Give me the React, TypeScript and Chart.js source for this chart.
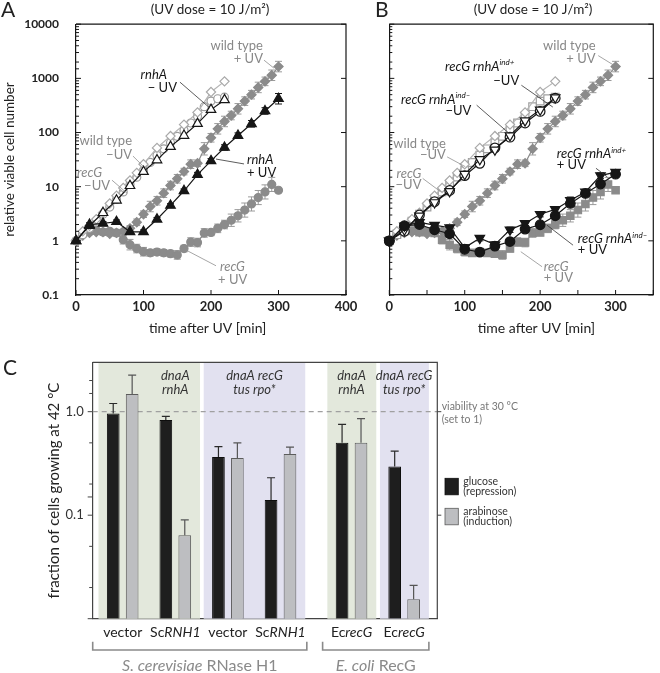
import React, { useEffect, useRef } from 'react';
import { Chart, registerables } from 'chart.js';

Chart.register(...registerables);

const FONT = 'Lato, "Open Sans", "DejaVu Sans", sans-serif';
const INK = '#161616';
const GRAY = '#8b8b8b';
const LIGHT = '#a9a9a9';

// ---------------- Panels A & B : time after UV (min) ----------------
const t10 = [0, 10, 20, 30, 40, 50, 60, 70, 80, 90, 100, 110, 120, 130, 140, 150, 160, 170, 180, 190, 200, 210, 220, 230, 240, 250, 260, 270, 280, 290, 300];
const tWtMinusUV = [0, 10, 20, 30, 40, 50, 60, 70, 80, 90, 100, 120, 140, 160, 180, 200, 220];
const tRecGMinusUV = [0, 10, 20, 30, 40, 50, 60, 70, 80, 90, 100, 110, 120, 130, 140, 150, 160, 170, 180, 190, 200, 210, 220];
const t20to220 = [0, 20, 40, 60, 80, 100, 120, 140, 160, 180, 200, 220];
const t20to300 = [0, 20, 40, 60, 80, 100, 120, 140, 160, 180, 200, 220, 240, 260, 280, 300];

// relative viable cell number
const wtMinusUV = [1, 1.5, 1.9, 2.5, 3.3, 4.9, 6.8, 9.5, 13, 18, 26, 52, 86, 140, 235, 560, 880];
const recGMinusUV = [1, 1.3, 1.7, 2.3, 3.1, 4.2, 5.8, 8, 11, 15, 20, 28, 38, 50, 65, 85, 110, 150, 200, 300, 380, 420, 450];
const rnhAMinusUV = [1, 1.9, 3.3, 5.6, 10.4, 19, 31, 55, 88, 146, 265, 400];
const rnhAPlusUV = [1, 2.0, 2.1, 2.25, 1.47, 1.47, 2.5, 4.5, 8.4, 16.7, 30, 53, 88, 145, 250, 420];
const wtPlusUV = [1, 1.25, 1.4, 1.45, 1.45, 1.35, 1.4, 1.5, 1.7, 2.2, 3.1, 4.3, 5.5, 7.6, 10.5, 14, 19, 26, 27, 50, 80, 117, 160, 206, 274, 380, 500, 680, 880, 1140, 1650];
const recGPlusUV = [1, 1.35, 1.5, 1.55, 1.45, 1.5, 1.4, 1.05, 0.85, 0.72, 0.63, 0.6, 0.62, 0.6, 0.58, 0.55, 0.72, 0.95, 0.93, 1.4, 1.43, 1.7, 2.0, 2.4, 2.9, 3.7, 4.8, 6.3, 8, 11, 8.6];
const indPlusMinusUV = [1, 1.6, 2.9, 5.1, 8.2, 17, 32, 48, 88, 166, 263, 440];
const indMinusMinusUV = [1, 1.5, 3.0, 5.3, 8.5, 16, 27, 52, 82, 150, 245, 430];
const indPlusPlusUV = [1, 1.9, 2.2, 1.95, 1.75, 0.75, 1.12, 0.85, 1.6, 2.1, 3.1, 3.8, 5.6, 8.0, 16, 18.5];
const indMinusPlusUV = [1, 1.9, 2.0, 1.6, 1.35, 0.7, 0.62, 0.8, 0.97, 1.65, 1.98, 2.9, 4.9, 7.5, 11.2, 17];

// error bars (% of value)
const wtPlusUVErr = [0, 8, 8, 10, 10, 10, 10, 10, 12, 15, 15, 25, 20, 20, 20, 20, 15, 20, 15, 30, 20, 25, 25, 20, 25, 20, 20, 25, 20, 25, 25];
const recGPlusUVErr = [0, 10, 12, 12, 15, 12, 15, 20, 25, 20, 20, 15, 15, 15, 15, 20, 15, 20, 20, 20, 15, 20, 20, 30, 30, 35, 35, 35, 35, 35, 10];
const rnhAPlusUVErr = [0, 8, 8, 8, 8, 8, 8, 8, 8, 10, 10, 12, 12, 15, 15, 25];
const indPlusPlusUVErr = [0, 10, 10, 10, 12, 12, 12, 12, 12, 10, 12, 12, 15, 12, 12, 12];
const indMinusPlusUVErr = [0, 8, 8, 10, 10, 10, 10, 10, 10, 10, 10, 10, 12, 12, 12, 12];

const yTickLabelsAB = ['0.1', '1', '10', '100', '1000', '10000'];

// ---------------- Panel C : fraction of cells growing at 42 °C ----------------
const cGroups = ['vector', 'ScRNH1', 'vector', 'ScRNH1', 'EcrecG', 'EcrecG'];
const glucose = [0.96, 0.83, 0.365, 0.14, 0.5, 0.295];
const glucoseSD = [0.24, 0.07, 0.095, 0.09, 0.255, 0.12];
const arabinose = [1.48, 0.064, 0.357, 0.39, 0.5, 0.0154];
const arabinoseSD = [0.78, 0.026, 0.143, 0.065, 0.357, 0.0056];
const cYTickValues = [0.1, 1];
const cYTickLabels = ['0.1', '1.0'];

// ---------------- helpers ----------------
type Seg = { t: string; i?: boolean; sup?: boolean };

function fontStr(size: number, italic = false, weight = 'normal') {
  return `${italic ? 'italic ' : ''}${weight} ${size}px ${FONT}`;
}

function drawSegs(ctx: CanvasRenderingContext2D, segs: Seg[], x: number, y: number, align: string, size: number, color: string, weight = 'normal') {
  ctx.save();
  ctx.fillStyle = color;
  ctx.textBaseline = 'middle';
  ctx.textAlign = 'left';
  const parts = segs.map((s) => {
    const f = fontStr(s.sup ? size * 0.62 : size, !!s.i, weight);
    ctx.font = f;
    return { s, f, w: ctx.measureText(s.t).width };
  });
  const total = parts.reduce((a, p) => a + p.w, 0);
  let cx = align === 'left' ? x : align === 'right' ? x - total : x - total / 2;
  for (const p of parts) {
    ctx.font = p.f;
    ctx.fillText(p.s.t, cx, p.s.sup ? y - size * 0.32 : y);
    cx += p.w;
  }
  ctx.restore();
}

function isDecade(v: number) {
  const l = Math.log10(v);
  return Math.abs(l - Math.round(l)) < 1e-6;
}

type Series = {
  label: string; t: number[]; v: number[];
  marker: string; rot?: number; r: number; stroke: string; fill: string; line: string;
  err?: number[]; errColor?: string;
};

type Note = { segs: Seg[]; t: number; lv: number; align: string; tone: 'ink' | 'gray' };
type Leader = { from: [number, number]; to: [number, number]; tone: 'ink' | 'gray' };

type Panel = {
  letter: string; letterX: number; titleX: number; xMax: number; xStep: number;
  yAxisWidth: number; padRight: number; showYLabels: boolean;
  series: Series[]; notes: Note[]; leaders: Leader[];
};

const sup = (s: string): Seg => ({ t: s, i: true, sup: true });

const panelA: Panel = {
  letter: 'A', letterX: 1, titleX: 210, xMax: 400, xStep: 100, yAxisWidth: 76, padRight: 19, showYLabels: true,
  series: [
    { label: 'rnhA + UV', t: t20to300, v: rnhAPlusUV, marker: 'triangle', r: 5.5, stroke: INK, fill: INK, line: INK, err: rnhAPlusUVErr, errColor: INK },
    { label: 'rnhA − UV', t: t20to220, v: rnhAMinusUV, marker: 'triangle', r: 5.5, stroke: INK, fill: '#fff', line: INK },
    { label: 'wild type − UV', t: tWtMinusUV, v: wtMinusUV, marker: 'rectRot', r: 4.6, stroke: LIGHT, fill: '#fff', line: '#b4b4b4' },
    { label: 'recG − UV', t: tRecGMinusUV, v: recGMinusUV, marker: 'circle', r: 4, stroke: '#9c9c9c', fill: '#fff', line: '#a2a2a2' },
    { label: 'wild type + UV', t: t10, v: wtPlusUV, marker: 'rectRot', r: 4.6, stroke: GRAY, fill: GRAY, line: GRAY, err: wtPlusUVErr, errColor: '#9a9a9a' },
    { label: 'recG + UV', t: t10, v: recGPlusUV, marker: 'circle', r: 4, stroke: GRAY, fill: GRAY, line: GRAY, err: recGPlusUVErr, errColor: '#9a9a9a' },
  ],
  notes: [
    { segs: [{ t: 'wild type' }], t: 277, lv: 3.61, align: 'right', tone: 'gray' },
    { segs: [{ t: '+ UV' }], t: 277, lv: 3.37, align: 'right', tone: 'gray' },
    { segs: [{ t: 'rnhA', i: true }], t: 134.8, lv: 3.06, align: 'right', tone: 'ink' },
    { segs: [{ t: '− UV' }], t: 149.6, lv: 2.82, align: 'right', tone: 'ink' },
    { segs: [{ t: 'wild type' }], t: 83, lv: 1.84, align: 'right', tone: 'gray' },
    { segs: [{ t: '−UV' }], t: 83, lv: 1.58, align: 'right', tone: 'gray' },
    { segs: [{ t: 'recG', i: true }], t: 38.5, lv: 1.25, align: 'right', tone: 'gray' },
    { segs: [{ t: '−UV' }], t: 50.4, lv: 1.01, align: 'right', tone: 'gray' },
    { segs: [{ t: 'rnhA', i: true }], t: 253.3, lv: 1.49, align: 'left', tone: 'ink' },
    { segs: [{ t: '+ UV' }], t: 253.3, lv: 1.25, align: 'left', tone: 'ink' },
    { segs: [{ t: 'recG', i: true }], t: 213.3, lv: -0.48, align: 'left', tone: 'gray' },
    { segs: [{ t: '+ UV' }], t: 210.4, lv: -0.72, align: 'left', tone: 'gray' },
  ],
  leaders: [
    { from: [278.5, 3.336], to: [293.3, 3.188], tone: 'gray' },
    { from: [154, 2.93], to: [198.5, 2.45], tone: 'ink' },
    { from: [84.4, 1.565], to: [99.3, 1.38], tone: 'gray' },
    { from: [53.3, 1.12], to: [75.6, 0.88], tone: 'gray' },
    { from: [248.9, 1.42], to: [207.4, 1.51], tone: 'ink' },
    { from: [207.4, -0.46], to: [163, -0.17], tone: 'gray' },
  ],
};

const panelB: Panel = {
  letter: 'B', letterX: 45, titleX: 203, xMax: 350, xStep: 50, yAxisWidth: 59.3, padRight: 1.5, showYLabels: false,
  series: [
    { label: 'recG rnhA ind+ + UV', t: t20to300, v: indPlusPlusUV, marker: 'triangle', rot: 180, r: 5.5, stroke: INK, fill: INK, line: INK, err: indPlusPlusUVErr, errColor: INK },
    { label: 'recG rnhA ind− + UV', t: t20to300, v: indMinusPlusUV, marker: 'circle', r: 4.8, stroke: INK, fill: INK, line: INK, err: indMinusPlusUVErr, errColor: INK },
    { label: 'recG rnhA ind+ − UV', t: t20to220, v: indPlusMinusUV, marker: 'triangle', rot: 180, r: 5.5, stroke: INK, fill: '#fff', line: INK },
    { label: 'recG rnhA ind− − UV', t: t20to220, v: indMinusMinusUV, marker: 'circle', r: 4.8, stroke: INK, fill: '#fff', line: INK },
    { label: 'wild type − UV', t: tWtMinusUV, v: wtMinusUV, marker: 'rectRot', r: 4.6, stroke: LIGHT, fill: '#fff', line: '#b4b4b4' },
    { label: 'recG − UV', t: tRecGMinusUV, v: recGMinusUV, marker: 'rect', r: 5.4, stroke: '#a0a0a0', fill: '#fff', line: '#a8a8a8' },
    { label: 'wild type + UV', t: t10, v: wtPlusUV, marker: 'rectRot', r: 4.6, stroke: GRAY, fill: GRAY, line: GRAY, err: wtPlusUVErr, errColor: '#9a9a9a' },
    { label: 'recG + UV', t: t10, v: recGPlusUV, marker: 'rect', r: 5.2, stroke: GRAY, fill: GRAY, line: GRAY, err: recGPlusUVErr, errColor: '#9a9a9a' },
  ],
  notes: [
    { segs: [{ t: 'wild type' }], t: 273.5, lv: 3.61, align: 'right', tone: 'gray' },
    { segs: [{ t: '+ UV' }], t: 273.5, lv: 3.37, align: 'right', tone: 'gray' },
    { segs: [{ t: 'recG rnhA', i: true }, sup('ind+')], t: 166, lv: 3.21, align: 'right', tone: 'ink' },
    { segs: [{ t: '−UV' }], t: 172.2, lv: 2.96, align: 'right', tone: 'ink' },
    { segs: [{ t: 'recG rnhA', i: true }, sup('ind–')], t: 107.6, lv: 2.6, align: 'right', tone: 'ink' },
    { segs: [{ t: '−UV' }], t: 108.8, lv: 2.41, align: 'right', tone: 'ink' },
    { segs: [{ t: 'wild type' }], t: 75, lv: 1.8, align: 'right', tone: 'gray' },
    { segs: [{ t: '−UV' }], t: 75, lv: 1.58, align: 'right', tone: 'gray' },
    { segs: [{ t: 'recG', i: true }], t: 42.6, lv: 1.245, align: 'right', tone: 'gray' },
    { segs: [{ t: '−UV' }], t: 42.6, lv: 1.03, align: 'right', tone: 'gray' },
    { segs: [{ t: 'recG rnhA', i: true }, sup('ind+')], t: 222, lv: 1.6, align: 'left', tone: 'ink' },
    { segs: [{ t: '+ UV' }], t: 222, lv: 1.4, align: 'left', tone: 'ink' },
    { segs: [{ t: 'recG rnhA', i: true }, sup('ind–')], t: 250, lv: 0.03, align: 'left', tone: 'ink' },
    { segs: [{ t: '+ UV' }], t: 250, lv: -0.17, align: 'left', tone: 'ink' },
    { segs: [{ t: 'recG', i: true }], t: 204.7, lv: -0.48, align: 'left', tone: 'gray' },
    { segs: [{ t: '+ UV' }], t: 204.7, lv: -0.69, align: 'left', tone: 'gray' },
  ],
  leaders: [
    { from: [277, 3.42], to: [298, 3.24], tone: 'gray' },
    { from: [175.1, 2.873], to: [216.8, 2.47], tone: 'ink' },
    { from: [115.8, 2.505], to: [159.2, 1.98], tone: 'ink' },
    { from: [76.7, 1.55], to: [100.7, 1.37], tone: 'gray' },
    { from: [44.3, 1.153], to: [68.1, 0.906], tone: 'gray' },
    { from: [274, 1.34], to: [289, 1.18], tone: 'ink' },
    { from: [243.6, -0.08], to: [209, 0.29], tone: 'ink' },
    { from: [202.5, -0.478], to: [174.3, -0.2], tone: 'gray' },
  ],
};

function makeTimeCoursePlugin(p: Panel) {
  return {
    id: 'timeCourse' + p.letter,
    beforeDatasetsDraw(chart: any) {
      const { ctx, scales: { x, y } } = chart;
      ctx.save();
      chart.data.datasets.forEach((ds: any) => {
        if (!ds.errPct) return;
        ctx.strokeStyle = ds.errColor;
        ctx.lineWidth = 1;
        ds.data.forEach((pt: any, j: number) => {
          const e = ds.errPct[j];
          if (!e) return;
          const px = x.getPixelForValue(pt.x);
          const yt = y.getPixelForValue(pt.y * (1 + e / 100));
          const yb = y.getPixelForValue(pt.y / (1 + e / 100));
          ctx.beginPath();
          ctx.moveTo(px, yt); ctx.lineTo(px, yb);
          ctx.moveTo(px - 3.5, yt); ctx.lineTo(px + 3.5, yt);
          ctx.moveTo(px - 3.5, yb); ctx.lineTo(px + 3.5, yb);
          ctx.stroke();
        });
      });
      ctx.restore();
    },
    afterDraw(chart: any) {
      const { ctx, chartArea: ca, scales: { x, y } } = chart;
      ctx.save();
      ctx.strokeStyle = INK;
      ctx.lineWidth = 1.2;
      ctx.beginPath();
      ctx.moveTo(ca.left, ca.top); ctx.lineTo(ca.right, ca.top); ctx.lineTo(ca.right, ca.bottom);
      ctx.stroke();
      ctx.lineWidth = 1;
      y.ticks.forEach((tk: any) => {
        const py = y.getPixelForValue(tk.value);
        const major = isDecade(tk.value);
        const len = major ? 5 : 3;
        ctx.beginPath();
        ctx.moveTo(ca.left, py); ctx.lineTo(ca.left + len, py);
        if (major) { ctx.moveTo(ca.right, py); ctx.lineTo(ca.right - len, py); }
        ctx.stroke();
      });
      x.ticks.forEach((tk: any) => {
        const px = x.getPixelForValue(tk.value);
        ctx.beginPath();
        ctx.moveTo(px, ca.bottom); ctx.lineTo(px, ca.bottom - 5);
        ctx.stroke();
      });
      // leaders
      p.leaders.forEach((l) => {
        ctx.strokeStyle = l.tone === 'ink' ? '#333' : '#8f8f8f';
        ctx.lineWidth = 0.8;
        ctx.beginPath();
        ctx.moveTo(x.getPixelForValue(l.from[0]), y.getPixelForValue(10 ** l.from[1]));
        ctx.lineTo(x.getPixelForValue(l.to[0]), y.getPixelForValue(10 ** l.to[1]));
        ctx.stroke();
      });
      ctx.restore();
      // notes
      p.notes.forEach((n) => {
        drawSegs(ctx, n.segs, x.getPixelForValue(n.t), y.getPixelForValue(10 ** n.lv), n.align, 13, n.tone === 'ink' ? INK : '#888');
      });
      // panel letter, title, x title
      ctx.save();
      ctx.fillStyle = '#222';
      ctx.font = fontStr(21);
      ctx.textBaseline = 'alphabetic';
      ctx.textAlign = 'left';
      ctx.fillText(p.letter, p.letterX, 17);
      ctx.restore();
      drawSegs(ctx, [{ t: '(UV dose = 10 J/m²)' }], p.titleX, 10, 'center', 13.5, '#222');
      drawSegs(ctx, [{ t: 'time after UV [min]' }], x.getPixelForValue(195), 328, 'center', 14, '#222');
    },
  };
}

function timeCourseConfig(p: Panel): any {
  return {
    type: 'line',
    data: {
      datasets: p.series.map((s) => ({
        label: s.label,
        data: s.t.map((t, i) => ({ x: t, y: s.v[i] })),
        borderColor: s.line,
        borderWidth: 1.2,
        backgroundColor: s.fill,
        pointStyle: s.marker,
        pointRotation: s.rot ?? 0,
        pointRadius: s.r,
        pointHoverRadius: s.r,
        pointBorderColor: s.stroke,
        pointBackgroundColor: s.fill,
        pointBorderWidth: 1.2,
        fill: false,
        tension: 0,
        clip: false,
        errPct: s.err,
        errColor: s.errColor,
      })),
    },
    options: {
      responsive: false,
      animation: false,
      devicePixelRatio: 1,
      events: [],
      layout: { padding: { left: 0, right: p.padRight, top: 24, bottom: 0 } },
      plugins: { legend: { display: false }, tooltip: { enabled: false } },
      scales: {
        x: {
          type: 'linear', min: 0, max: p.xMax,
          afterFit: (s: any) => { s.height = 45; },
          ticks: {
            stepSize: p.xStep, autoSkip: false, maxRotation: 0, padding: 4, color: '#222',
            font: { family: FONT, size: 13, weight: 'bold' },
            callback: (v: any) => (Number(v) % 100 === 0 ? String(v) : ''),
          },
          grid: { display: false, drawTicks: false },
          border: { display: true, color: INK, width: 1.2 },
        },
        y: {
          type: 'logarithmic', min: 0.1, max: 10000,
          afterFit: (s: any) => { s.width = p.yAxisWidth; },
          ticks: {
            autoSkip: false, padding: 17, color: '#222',
            font: { family: FONT, size: 12, weight: 'bold' },
            callback: (v: any) => {
              if (!p.showYLabels || !isDecade(Number(v))) return '';
              return yTickLabelsAB[Math.round(Math.log10(Number(v))) + 1] ?? '';
            },
          },
          grid: { display: false, drawTicks: false },
          border: { display: true, color: INK, width: 1.2 },
          title: {
            display: p.showYLabels, text: 'relative viable cell number', color: '#222',
            font: { family: FONT, size: 13.5 }, padding: { top: 2, bottom: 0 },
          },
        },
      },
    },
    plugins: [makeTimeCoursePlugin(p)],
  };
}

// ---------------- Panel C layout helpers ----------------
const E_COLI_GAP = 0.35;
const groupPos = (i: number) => i + 1 + (i >= 4 ? E_COLI_GAP : 0);
const GREEN = '#e3e8dc';
const LAVENDER = '#e2e1f0';
const strainBands = [
  { from: 0, to: 1, color: GREEN, lines: ['dnaA', 'rnhA'], labelOn: 1 },
  { from: 2, to: 3, color: LAVENDER, lines: ['dnaA recG', 'tus rpo*'], labelOn: -1 },
  { from: 4, to: 4, color: GREEN, lines: ['dnaA', 'rnhA'], labelOn: 4 },
  { from: 5, to: 5, color: LAVENDER, lines: ['dnaA recG', 'tus rpo*'], labelOn: 5 },
];
const species = [
  { segs: [{ t: 'S. cerevisiae', i: true }, { t: ' RNase H1' }], from: 0, to: 3, padL: 0.57, padR: 0.5 },
  { segs: [{ t: 'E. coli', i: true }, { t: ' RecG' }], from: 4, to: 5, padL: 0.55, padR: 0.47 },
];
const legendItems = [
  { lines: ['glucose', '(repression)'] },
  { lines: ['arabinose', '(induction)'] },
];

function catSegs(name: string): Seg[] {
  if (name.startsWith('Sc') || name.startsWith('Ec')) return [{ t: name.slice(0, 2) }, { t: name.slice(2), i: true }];
  return [{ t: name }];
}

const fracPlugin = {
  id: 'fraction',
  beforeDatasetsDraw(chart: any) {
    const { ctx, chartArea: ca, scales: { x, y } } = chart;
    ctx.save();
    strainBands.forEach((b) => {
      const l = x.getPixelForValue(groupPos(b.from) - 0.46);
      const r = x.getPixelForValue(groupPos(b.to) + 0.47);
      ctx.fillStyle = b.color;
      ctx.fillRect(l, ca.top, r - l, ca.bottom - ca.top);
      const cx = b.labelOn >= 0 ? x.getPixelForValue(groupPos(b.labelOn)) : (l + r) / 2;
      b.lines.forEach((ln, k) => drawSegs(ctx, [{ t: ln, i: true }], cx, ca.top + 13.4 + k * 14.3, 'center', 13, '#333'));
    });
    const p1 = y.getPixelForValue(1);
    ctx.setLineDash([5, 4]);
    ctx.strokeStyle = '#a0a0a0';
    ctx.lineWidth = 1.2;
    ctx.beginPath();
    ctx.moveTo(ca.left, p1); ctx.lineTo(ca.right, p1);
    ctx.stroke();
    ctx.setLineDash([]);
    ctx.restore();
  },
  afterDatasetsDraw(chart: any) {
    const { ctx, scales: { y } } = chart;
    ctx.save();
    chart.data.datasets.forEach((ds: any, di: number) => {
      const meta = chart.getDatasetMeta(di);
      ctx.strokeStyle = ds.errColor;
      ctx.lineWidth = 1.2;
      meta.data.forEach((bar: any, j: number) => {
        const top = y.getPixelForValue(ds.data[j].y + ds.sd[j]);
        ctx.beginPath();
        ctx.moveTo(bar.x, bar.y); ctx.lineTo(bar.x, top);
        ctx.moveTo(bar.x - 4, top); ctx.lineTo(bar.x + 4, top);
        ctx.stroke();
      });
    });
    ctx.restore();
  },
  afterDraw(chart: any) {
    const { ctx, chartArea: ca, scales: { x, y } } = chart;
    ctx.save();
    // frame
    ctx.strokeStyle = '#444';
    ctx.lineWidth = 1.2;
    ctx.beginPath();
    ctx.moveTo(ca.left, ca.top); ctx.lineTo(ca.right, ca.top); ctx.lineTo(ca.right, ca.bottom);
    ctx.stroke();
    // ticks
    ctx.lineWidth = 1;
    y.ticks.forEach((tk: any) => {
      const v = tk.value;
      const m = Math.round(v / 10 ** Math.floor(Math.log10(v) + 1e-9));
      if (m !== 1 && m !== 2 && m !== 5) return;
      const py = y.getPixelForValue(v);
      ctx.beginPath();
      ctx.moveTo(ca.left, py); ctx.lineTo(ca.left - (m === 1 ? 5 : 3.5), py);
      ctx.stroke();
    });
    cYTickValues.forEach((v) => {
      const py = y.getPixelForValue(v);
      ctx.beginPath();
      ctx.moveTo(ca.right, py); ctx.lineTo(ca.right + 4, py);
      ctx.stroke();
    });
    // category labels
    cGroups.forEach((g, i) => drawSegs(ctx, catSegs(g), x.getPixelForValue(groupPos(i)), ca.bottom + 14, 'center', 14, '#222'));
    // brackets + species
    species.forEach((s) => {
      const l = x.getPixelForValue(groupPos(s.from) - s.padL);
      const r = x.getPixelForValue(groupPos(s.to) + s.padR);
      const y1 = ca.bottom + 23, y2 = ca.bottom + 31.3;
      ctx.strokeStyle = '#8a8a8a';
      ctx.lineWidth = 1.6;
      ctx.beginPath();
      ctx.moveTo(l, y1); ctx.lineTo(l, y2); ctx.lineTo(r, y2); ctx.lineTo(r, y1);
      ctx.stroke();
      drawSegs(ctx, s.segs, (l + r) / 2, ca.bottom + 47, 'center', 16, '#8a8a8a');
    });
    // viability note
    const p1 = y.getPixelForValue(1);
    drawSegs(ctx, [{ t: 'viability at 30 °C' }], ca.right + 4.4, p1 - 5, 'left', 10.5, '#777');
    drawSegs(ctx, [{ t: '(set to 1)' }], ca.right + 4.4, p1 + 7.6, 'left', 10.5, '#777');
    // legend
    const fills = chart.data.datasets.map((d: any) => d.backgroundColor);
    const strokes = chart.data.datasets.map((d: any) => d.borderColor);
    legendItems.forEach((it, k) => {
      const top = ca.top + 116 + k * 30;
      ctx.fillStyle = fills[k];
      ctx.fillRect(ca.right + 7.7, top, 13.3, 16.5);
      ctx.strokeStyle = strokes[k];
      ctx.lineWidth = 0.8;
      ctx.strokeRect(ca.right + 7.7, top, 13.3, 16.5);
      it.lines.forEach((ln, j) => drawSegs(ctx, [{ t: ln }], ca.right + 26, top + 3 + j * 10.5, 'left', 10.5, '#333'));
    });
    // panel letter
    ctx.fillStyle = '#222';
    ctx.font = fontStr(21);
    ctx.textBaseline = 'alphabetic';
    ctx.textAlign = 'left';
    ctx.fillText('C', 3, 45);
    ctx.restore();
  },
};

function fractionConfig(): any {
  return {
    type: 'bar',
    data: {
      datasets: [
        {
          label: 'glucose (repression)',
          data: cGroups.map((_, i) => ({ x: groupPos(i), y: glucose[i] })),
          backgroundColor: '#1e1e1e', borderColor: '#0e0e0e', borderWidth: 1,
          categoryPercentage: 0.72, barPercentage: 0.67,
          sd: glucoseSD, errColor: '#2a2a2a',
        },
        {
          label: 'arabinose (induction)',
          data: cGroups.map((_, i) => ({ x: groupPos(i), y: arabinose[i] })),
          backgroundColor: '#bdbec1', borderColor: '#5c5c5c', borderWidth: 1,
          categoryPercentage: 0.72, barPercentage: 0.67,
          sd: arabinoseSD, errColor: '#555',
        },
      ],
    },
    options: {
      responsive: false,
      animation: false,
      devicePixelRatio: 1,
      events: [],
      layout: { padding: { left: 0, right: 222.7, top: 32.3, bottom: 0 } },
      plugins: { legend: { display: false }, tooltip: { enabled: false } },
      scales: {
        x: {
          type: 'linear', offset: false, min: 0.43, max: 6.98,
          afterFit: (s: any) => { s.height = 54.3; },
          ticks: { display: false, stepSize: 1, includeBounds: false },
          grid: { display: false, drawTicks: false },
          border: { display: true, color: '#444', width: 1.2 },
        },
        y: {
          type: 'logarithmic', min: 0.01, max: 3,
          afterFit: (s: any) => { s.width = 92.7; },
          ticks: {
            autoSkip: false, padding: 9, color: '#333',
            font: { family: FONT, size: 13 },
            callback: (v: any) => {
              const k = cYTickValues.findIndex((t) => Math.abs(t - Number(v)) < 1e-9);
              return k >= 0 ? cYTickLabels[k] : '';
            },
          },
          grid: { display: false, drawTicks: false },
          border: { display: true, color: '#444', width: 1.2 },
          title: {
            display: true, text: 'fraction of cells growing at 42 °C', color: '#222',
            font: { family: FONT, size: 15 }, padding: { top: 45, bottom: 0 },
          },
        },
      },
    },
    plugins: [fracPlugin],
  };
}

export default function App() {
  const aRef = useRef<HTMLCanvasElement>(null);
  const bRef = useRef<HTMLCanvasElement>(null);
  const cRef = useRef<HTMLCanvasElement>(null);

  useEffect(() => {
    const charts = [
      new Chart(aRef.current as HTMLCanvasElement, timeCourseConfig(panelA)),
      new Chart(bRef.current as HTMLCanvasElement, timeCourseConfig(panelB)),
      new Chart(cRef.current as HTMLCanvasElement, fractionConfig()),
    ];
    return () => charts.forEach((c) => c.destroy());
  }, []);

  return (
    <div style={{ position: 'absolute', left: 0, top: 0, width: 660, height: 673, background: '#fff', overflow: 'hidden' }}>
      <canvas ref={aRef} width={365} height={340} style={{ position: 'absolute', left: 0, top: 0, width: 365, height: 340 }} />
      <canvas ref={bRef} width={330} height={340} style={{ position: 'absolute', left: 330, top: 0, width: 330, height: 340 }} />
      <canvas ref={cRef} width={660} height={343} style={{ position: 'absolute', left: 0, top: 330, width: 660, height: 343 }} />
    </div>
  );
}
